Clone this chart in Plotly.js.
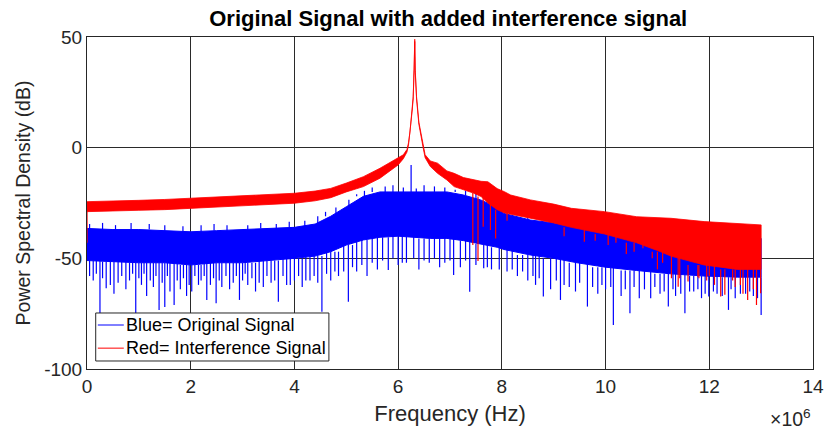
<!DOCTYPE html>
<html>
<head>
<meta charset="utf-8">
<script src="https://cdn.plot.ly/plotly-3.0.1.min.js"></script>
<style>
  html, body { margin: 0; padding: 0; background: #fff; }
  #chart { width: 824px; height: 430px; }
</style>
</head>
<body>
<div id="chart"></div>
<script>
// Frequency axis in units of 1e6 Hz (labelled with the x10^6 multiplier).

// Original signal: dense band envelope (upper / lower edge, dB)
const blueFreq   = [0, 0.5, 1, 1.5, 2, 2.5, 3, 3.5, 4, 4.4, 4.7, 5.0, 5.33, 5.65, 6.0, 6.62, 6.94, 7.26, 7.59, 7.91, 8.04, 8.55, 9.0, 9.45, 10.0, 10.6, 11.26, 11.9, 12.54, 13.0];
const blueTop    = [-36.5, -37, -37, -37.5, -38, -37.5, -37, -36.5, -36, -34.5, -31, -26.7, -22, -20, -20, -20, -20, -21.4, -23.6, -27, -29.7, -32.7, -34, -35.7, -37.2, -40, -42, -43, -42, -41];
const blueBottom = [-51, -51.5, -52, -52, -53, -52, -52, -51, -50, -49, -47, -44, -41.7, -40.5, -40, -41, -41, -42, -43.5, -45, -46, -48.5, -50, -52, -54, -55.5, -57, -58, -58.5, -58.5];

// Original signal: downward excursions (frequency, minimum dB)
const blueDipFreq = [0.05, 0.12, 0.18, 0.25, 0.3, 0.37, 0.45, 0.52, 0.6, 0.67, 0.75, 0.82, 0.88, 0.94, 1.0, 1.05, 1.1, 1.15, 1.22, 1.28, 1.33, 1.39, 1.45, 1.5, 1.55, 1.6, 1.68, 1.74, 1.8, 1.86, 1.92, 1.97, 2.02, 2.08, 2.15, 2.2, 2.26, 2.31, 2.38, 2.44, 2.49, 2.55, 2.6, 2.68, 2.75, 2.82, 2.88, 2.94, 3.0, 3.05, 3.1, 3.18, 3.25, 3.32, 3.4, 3.47, 3.55, 3.62, 3.69, 3.78, 3.85, 3.92, 4.0, 4.08, 4.15, 4.22, 4.3, 4.38, 4.45, 4.53, 4.62, 4.7, 4.78, 4.85, 4.95, 5.04, 5.12, 5.2, 5.3, 5.4, 5.5, 5.6, 5.7, 5.81, 5.9, 6.0, 6.08, 6.16, 6.3, 6.4, 6.5, 6.6, 6.7, 6.8, 6.9, 7.0, 7.07, 7.2, 7.3, 7.38, 7.5, 7.65, 7.72, 7.8, 7.95, 8.1, 8.2, 8.3, 8.4, 8.5, 8.6, 8.65, 8.72, 8.8, 8.94, 9.05, 9.13, 9.2, 9.3, 9.42, 9.5, 9.65, 9.75, 9.85, 9.93, 10.0, 10.1, 10.15, 10.3, 10.38, 10.47, 10.55, 10.65, 10.75, 10.87, 10.95, 11.05, 11.13, 11.21, 11.3, 11.35, 11.45, 11.53, 11.62, 11.7, 11.78, 11.85, 11.92, 11.99, 12.08, 12.15, 12.25, 12.37, 12.42, 12.5, 12.6, 12.7, 12.78, 12.85, 12.93, 13.0];
const blueDipLow  = [-58, -60, -57, -74.8, -59, -63.5, -62, -66, -61, -58, -64, -60, -57, -74.8, -59, -62, -57, -67, -60, -63, -58, -73.3, -61, -72, -58, -65, -71.1, -60, -64, -59, -67, -62, -65, -58, -62, -60, -58, -68.8, -62, -59, -70.3, -60, -63, -58, -64, -61, -58, -68.8, -60, -57, -62, -59, -65, -61, -63, -58, -61, -60, -69.6, -58, -62, -62, -60, -58, -63, -60, -60, -58, -61, -74.1, -57, -60, -56, -58, -56, -69.6, -54, -56, -53, -58, -52, -55, -51, -55.3, -50, -53, -52, -52, -50, -55, -51, -52, -50, -54, -52, -51, -57.5, -54, -51, -65.1, -53, -54.5, -54, -55, -55, -56, -55, -58, -56, -60, -58, -62, -59, -67.3, -64, -60, -68.8, -62, -63, -65, -61, -71.8, -63, -66, -62, -64, -63, -80.1, -67, -64, -74.8, -63, -68, -64, -68, -63, -66, -65, -71.8, -64, -67, -66, -74.8, -65, -65, -64, -68, -66, -67.3, -65, -66, -67, -73.3, -64, -68, -66, -66, -65, -67, -68, -75.6];

// Original signal: upward excursions (frequency, peak dB)
const bluePeakFreq = [0.05, 0.3, 0.55, 0.85, 1.2, 1.5, 1.85, 2.2, 2.45, 2.7, 3.1, 3.35, 3.65, 3.9, 4.2, 4.45, 4.6, 4.8, 5.05, 5.2, 5.35, 5.5, 5.75, 5.9, 6.1, 6.25, 6.35, 6.5, 6.7, 6.9, 7.1, 7.3, 7.5, 7.8, 8.0, 8.2, 8.5, 9.0, 9.4, 9.6, 10.0, 10.5, 11.0, 11.5, 12.2, 12.6, 12.8, 12.95];
const bluePeakHigh = [-34.5, -34, -35, -34, -34.5, -35, -35.5, -35, -34.5, -35, -35, -34, -34.5, -33.5, -33, -31, -29, -27, -23.5, -21, -19.5, -18, -17.5, -17, -18, -7.8, -18.5, -17, -17.5, -18, -19, -19.5, -20.5, -22, -25, -27, -30, -31, -33, -33, -35, -37, -38, -39, -38, -36, -35, -36];

// Interference signal: band envelope (upper / lower edge, dB)
const redFreq   = [0, 0.5, 1, 1.5, 2, 2.5, 3, 3.5, 4, 4.4, 4.7, 5.0, 5.33, 5.65, 6.0, 6.1, 6.17, 6.2, 6.23, 6.27, 6.29, 6.31, 6.32, 6.33, 6.355, 6.4, 6.43, 6.49, 6.52, 6.62, 6.76, 6.94, 7.08, 7.26, 7.45, 7.6, 7.73, 7.91, 8.05, 8.17, 8.55, 9.0, 9.34, 9.98, 10.6, 11.06, 11.26, 11.9, 12.54, 13.0];
const redTop    = [-24.4, -24.2, -23.8, -23.4, -22.9, -22.3, -21.8, -21.2, -20.6, -19.6, -18.4, -16, -13.1, -9.3, -4.8, -3.2, -0.8, 2.2, 7.5, 17.5, 23, 35, 49, 35, 23, 11.5, 7.5, 0.2, -3.2, -6, -7, -10.5, -11.6, -13.5, -14.5, -15.2, -15.4, -18.5, -19.9, -21.4, -23.6, -25.5, -27.4, -28.9, -31.2, -31.6, -31.9, -33.4, -34.2, -34.9];
const redBottom = [-28.9, -28.6, -28.3, -28, -27.7, -27, -26.4, -25.7, -25.1, -24, -22.6, -20, -17.6, -13.8, -7.8, -5, -2, 1.2, 6.5, 16.5, 22, 34, 48, 34, 22, 10.5, 6.5, -1, -4.5, -8.5, -11.6, -14.6, -17.6, -19, -20.5, -22.1, -25, -28, -29.5, -30, -32, -34, -36, -39, -43, -47, -49, -53, -55, -55];

// Interference signal: downward excursions (frequency, minimum dB)
const redDipFreq = [0.0, 7.44, 7.54, 7.64, 7.78, 7.88, 8.1, 9.2, 9.59, 9.8, 10.05, 10.2, 10.4, 10.55, 10.72, 10.9, 11.0, 11.1, 11.27, 11.4, 11.43, 11.59, 11.78, 11.8, 11.95, 12.0, 12.1, 12.22, 12.3, 12.45, 12.5, 12.6, 12.65, 12.74, 12.85, 12.91, 12.99];
const redDipLow  = [-43, -44, -51.2, -35.7, -37.2, -41, -33, -40, -42.5, -42, -44, -43, -48, -47, -45.5, -50, -55, -52, -59, -62.8, -59, -60.5, -58.3, -59, -60, -58, -62, -67.3, -66.5, -60, -63, -62, -66, -68.8, -64, -71.1, -65.8];

// Legend rows
const legendLabels = ['Blue= Original Signal', 'Red= Interference Signal'];

const blueColor = '#0000ff';
const redColor = '#ff0000';

// Closed polygon for a band between two edges
function band(freq, top, bottom) {
  return {
    x: freq.concat(freq.slice().reverse()),
    y: top.concat(bottom.slice().reverse())
  };
}

// Edge value at the envelope sample closest to f
function nearest(freq, vals, f) {
  let best = 0;
  for (let i = 1; i < freq.length; i++) {
    if (Math.abs(freq[i] - f) < Math.abs(freq[best] - f)) best = i;
  }
  return vals[best];
}

// Vertical strokes from a band edge out to the given extreme values
function strokes(freqs, ends, envFreq, envEdge) {
  const x = [], y = [];
  freqs.forEach((f, i) => {
    x.push(f, f, null);
    y.push(nearest(envFreq, envEdge, f), ends[i], null);
  });
  return { x, y };
}

const blueBand = band(blueFreq, blueTop, blueBottom);
const blueDips = strokes(blueDipFreq, blueDipLow, blueFreq, blueBottom);
const bluePeaks = strokes(bluePeakFreq, bluePeakHigh, blueFreq, blueTop);
const redBand = band(redFreq, redTop, redBottom);
const redDips = strokes(redDipFreq, redDipLow, redFreq, redBottom);

const common = { type: 'scatter', mode: 'lines', showlegend: false, hoverinfo: 'skip' };

const traces = [
  Object.assign({ x: blueBand.x, y: blueBand.y, fill: 'toself', fillcolor: blueColor,
    line: { color: blueColor, width: 1 } }, common),
  Object.assign({ x: blueDips.x, y: blueDips.y, line: { color: blueColor, width: 1.2 } }, common),
  Object.assign({ x: bluePeaks.x, y: bluePeaks.y, line: { color: blueColor, width: 1.2 } }, common),
  Object.assign({ x: redBand.x, y: redBand.y, fill: 'toself', fillcolor: redColor,
    line: { color: redColor, width: 0.8 } }, common),
  Object.assign({ x: redDips.x, y: redDips.y, line: { color: redColor, width: 1.2 } }, common)
];

const fontFamily = 'Liberation Sans, Arial, sans-serif';
const axisFont = { family: fontFamily, size: 19, color: '#262626' };

// Legend box drawn in paper coordinates inside the lower-left of the axes
const legX0 = 0.012, legX1 = 0.3332, legY0 = 0.0241, legY1 = 0.1687;
const rowY = [0.1325, 0.0628];
const rowColor = [blueColor, redColor];

const shapes = [
  { type: 'rect', xref: 'paper', yref: 'paper', x0: legX0, x1: legX1, y0: legY0, y1: legY1,
    line: { color: '#262626', width: 1 }, fillcolor: '#ffffff', layer: 'above' }
];
const annotations = [];
legendLabels.forEach((label, i) => {
  shapes.push({ type: 'line', xref: 'paper', yref: 'paper', x0: 0.0149, x1: 0.0507,
    y0: rowY[i], y1: rowY[i], line: { color: rowColor[i], width: 1 }, layer: 'above' });
  annotations.push({ xref: 'paper', yref: 'paper', x: 0.0505, y: rowY[i], xanchor: 'left',
    yanchor: 'middle', text: label, showarrow: false,
    font: { family: fontFamily, size: 18, color: '#000000' } });
});
annotations.push({
  xref: 'paper', yref: 'paper', x: 1.0, y: -0.19, xanchor: 'right', yanchor: 'bottom',
  text: '×10<sup>6</sup>', showarrow: false,
  font: { family: fontFamily, size: 19.5, color: '#262626' }
});

const layout = {
  width: 824, height: 430,
  margin: { l: 87, r: 11, t: 37, b: 61 },
  paper_bgcolor: '#ffffff',
  plot_bgcolor: '#ffffff',
  showlegend: false,
  title: {
    text: '<b>Original Signal with added interference signal</b>',
    font: { family: fontFamily, size: 22, color: '#000000' },
    x: 0.544, xanchor: 'center', y: 0.958, yanchor: 'middle'
  },
  xaxis: {
    range: [0, 14], tickvals: [0, 2, 4, 6, 8, 10, 12, 14],
    ticktext: ['0', '2', '4', '6', '8', '10', '12', '14'],
    showgrid: true, gridcolor: '#2a2a2a', gridwidth: 1,
    zeroline: false, showline: true, linecolor: '#262626', linewidth: 1, mirror: true,
    ticks: '', tickfont: axisFont,
    title: { text: 'Frequency (Hz)', font: { family: fontFamily, size: 22, color: '#262626' }, standoff: 9 }
  },
  yaxis: {
    range: [-100, 50], tickvals: [-100, -50, 0, 50],
    ticktext: ['-100', '-50', '0', '50'],
    showgrid: true, gridcolor: '#2a2a2a', gridwidth: 1,
    zeroline: false, showline: true, linecolor: '#262626', linewidth: 1, mirror: true,
    ticks: '', tickfont: axisFont,
    title: { text: 'Power Spectral Density (dB)', font: { family: fontFamily, size: 19.5, color: '#262626' }, standoff: 8 }
  },
  shapes: shapes,
  annotations: annotations
};

Plotly.newPlot('chart', traces, layout, { displayModeBar: false, staticPlot: true });
</script>
</body>
</html>
